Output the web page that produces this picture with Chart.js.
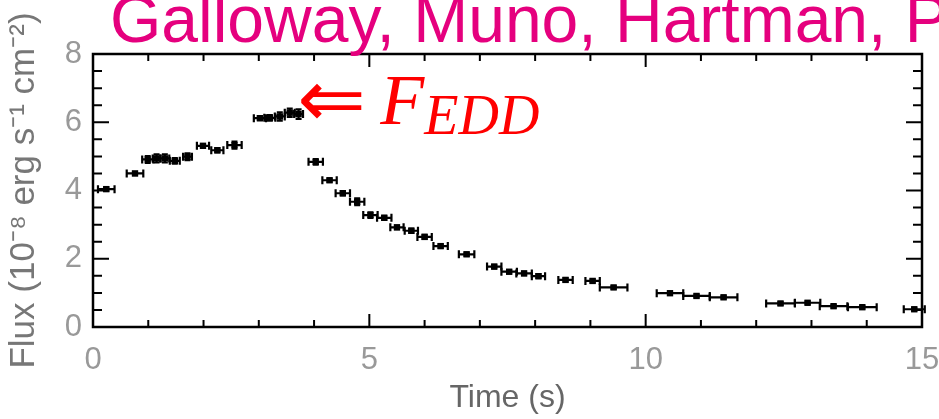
<!DOCTYPE html>
<html>
<head>
<meta charset="utf-8">
<script src="https://cdn.jsdelivr.net/npm/chart.js@4.4.1/dist/chart.umd.min.js"></script>
<style>
  html, body { margin: 0; padding: 0; background: #fff; }
  #wrap { position: relative; width: 939px; height: 419px; overflow: hidden; }
  #heading {
    position: absolute; left: 110px; top: -19px;
    font: 66px "Liberation Sans", Arial, sans-serif;
    color: #e5007e; white-space: nowrap;
  }
  canvas { position: absolute; left: 0; top: 0; }
</style>
</head>
<body>
<div id="wrap">
  <canvas id="burstChart" width="939" height="419"></canvas>
  <div id="heading">Galloway, Muno, Hartman, P</div>
</div>
<script>
// burst light curve
const time = [0.24, 0.76, 0.99, 1.15, 1.30, 1.48, 1.71, 1.99, 2.25, 2.56,
  3.02, 3.20, 3.38, 3.56, 3.72, 4.03, 4.28, 4.52, 4.78, 5.02,
  5.27, 5.50, 5.76, 6.00, 6.29, 6.76, 7.26, 7.53, 7.80, 8.06,
  8.55, 9.04, 9.42, 10.44, 10.92, 11.41, 12.44, 12.93, 13.40, 13.92, 14.86];
const timeErr = [0.15, 0.15, 0.10, 0.07, 0.08, 0.09, 0.08, 0.11, 0.11, 0.13,
  0.11, 0.10, 0.09, 0.09, 0.08, 0.13, 0.13, 0.13, 0.13, 0.13,
  0.13, 0.12, 0.12, 0.13, 0.13, 0.14, 0.13, 0.14, 0.14, 0.12,
  0.13, 0.13, 0.25, 0.24, 0.24, 0.25, 0.26, 0.23, 0.25, 0.26, 0.19];
const flux = [4.04, 4.50, 4.91, 4.94, 4.94, 4.87, 4.99, 5.31, 5.18, 5.33,
  6.12, 6.13, 6.17, 6.28, 6.24, 4.84, 4.30, 3.92, 3.67, 3.28,
  3.20, 2.92, 2.82, 2.64, 2.37, 2.13, 1.77, 1.62, 1.57, 1.49,
  1.38, 1.35, 1.16, 0.99, 0.91, 0.87, 0.69, 0.71, 0.61, 0.58, 0.52];
const fluxErr = [0.05, 0.05, 0.10, 0.12, 0.12, 0.08, 0.10, 0.05, 0.06, 0.10,
  0.06, 0.08, 0.12, 0.12, 0.14, 0.08, 0.05, 0.06, 0.10, 0.08,
  0.06, 0.05, 0.06, 0.06, 0.05, 0.05, 0.05, 0.05, 0.05, 0.06,
  0.05, 0.05, 0.04, 0.04, 0.04, 0.04, 0.04, 0.04, 0.04, 0.04, 0.04];

const xTicks = [0, 5, 10, 15];
const yTicks = [0, 2, 4, 6, 8];

// Eddington flux marker
const eddTime = 3.75;
const eddFlux = 6.5;

const points = time.map((t, i) => ({ x: t, y: flux[i] }));

// error bars: horizontal = bin width, vertical = flux error
const errorBars = {
    id: 'errorBars',
    afterDatasetsDraw(chart) {
        const { ctx, scales: { x, y } } = chart;
        ctx.save();
        ctx.strokeStyle = '#000';
        ctx.lineWidth = 2.2;
        time.forEach((t, i) => {
            const x0 = x.getPixelForValue(t - timeErr[i]);
            const x1 = x.getPixelForValue(t + timeErr[i]);
            const yc = y.getPixelForValue(flux[i]);
            const xc = x.getPixelForValue(t);
            const y0 = y.getPixelForValue(flux[i] - fluxErr[i]);
            const y1 = y.getPixelForValue(flux[i] + fluxErr[i]);
            ctx.beginPath();
            ctx.moveTo(x0, yc); ctx.lineTo(x1, yc);
            ctx.moveTo(x0, yc - 4); ctx.lineTo(x0, yc + 4);
            ctx.moveTo(x1, yc - 4); ctx.lineTo(x1, yc + 4);
            ctx.moveTo(xc, y0); ctx.lineTo(xc, y1);
            ctx.moveTo(xc - 3, y0); ctx.lineTo(xc + 3, y0);
            ctx.moveTo(xc - 3, y1); ctx.lineTo(xc + 3, y1);
            ctx.stroke();
        });
        ctx.restore();
    }
};

// box frame with inward ticks on all four sides
const frame = {
    id: 'frame',
    afterDraw(chart) {
        const { ctx, chartArea: a, scales: { x, y } } = chart;
        ctx.save();
        ctx.strokeStyle = '#000';
        ctx.lineWidth = 2.5;
        ctx.strokeRect(a.left, a.top, a.right - a.left, a.bottom - a.top);
        ctx.lineWidth = 2;
        ctx.beginPath();
        for (let t = 1; t < 15; t++) {
            const px = x.getPixelForValue(t);
            const len = t % 5 === 0 ? 13 : 7;
            ctx.moveTo(px, a.bottom); ctx.lineTo(px, a.bottom - len);
            ctx.moveTo(px, a.top); ctx.lineTo(px, a.top + len);
        }
        for (let v = 0.5; v < 8; v += 0.5) {
            const py = y.getPixelForValue(v);
            const len = v % 2 === 0 ? 16 : 9;
            ctx.moveTo(a.left, py); ctx.lineTo(a.left + len, py);
            ctx.moveTo(a.right, py); ctx.lineTo(a.right - len, py);
        }
        ctx.stroke();

        // F_EDD annotation
        const px = x.getPixelForValue(eddTime);
        const py = y.getPixelForValue(eddFlux);
        ctx.fillStyle = '#ff0000';
        ctx.textBaseline = 'middle';
        ctx.font = '82px "DejaVu Sans"';
        ctx.fillText('\u21D0', px - 3, py + 1);
        ctx.textBaseline = 'alphabetic';
        ctx.font = 'italic 72px "Liberation Serif"';
        ctx.fillText('F', px + 80, py + 19);
        ctx.font = 'italic 56px "Liberation Serif"';
        ctx.fillText('EDD', px + 124, py + 29);
        ctx.restore();
    }
};

const ctx = document.getElementById('burstChart').getContext('2d');
new Chart(ctx, {
    type: 'scatter',
    data: {
        datasets: [{
            data: points,
            pointStyle: 'rect',
            pointRadius: 4.5,
            backgroundColor: '#000',
            borderColor: '#000',
            borderWidth: 0
        }]
    },
    options: {
        responsive: false,
        animation: false,
        devicePixelRatio: 1,
        layout: { padding: { top: 54, right: 17, left: 0, bottom: 0 } },
        plugins: { legend: { display: false }, tooltip: { enabled: false } },
        scales: {
            x: {
                type: 'linear', min: 0, max: 15,
                afterBuildTicks: (s) => { s.ticks = xTicks.map(v => ({ value: v })); },
                afterFit: (s) => {
                    s.height = 92;
                    s.paddingLeft = 0;
                    s.paddingRight = 0;
                },
                grid: { display: false, drawTicks: false },
                border: { display: false },
                ticks: {
                    padding: 15, maxRotation: 0,
                    color: '#999',
                    font: { family: '"Liberation Sans"', size: 31 }
                },
                title: {
                    display: true, text: 'Time (s)',
                    color: '#666',
                    padding: { top: 0, bottom: 2 },
                    font: { family: '"Liberation Sans"', size: 32 }
                }
            },
            y: {
                type: 'linear', min: 0, max: 8,
                afterBuildTicks: (s) => { s.ticks = yTicks.map(v => ({ value: v })); },
                afterFit: (s) => { s.width = 93; },
                grid: { display: false, drawTicks: false },
                border: { display: false },
                ticks: {
                    padding: 11,
                    color: '#999',
                    font: { family: '"Liberation Sans"', size: 31 }
                },
                title: {
                    display: true, text: 'Flux (10\u207B\u2078 erg s\u207B\u00B9 cm\u207B\u00B2)',
                    color: '#777',
                    padding: { top: 3, bottom: 0 },
                    font: { family: '"Liberation Sans"', size: 35 }
                }
            }
        }
    },
    plugins: [errorBars, frame]
});
</script>
</body>
</html>
